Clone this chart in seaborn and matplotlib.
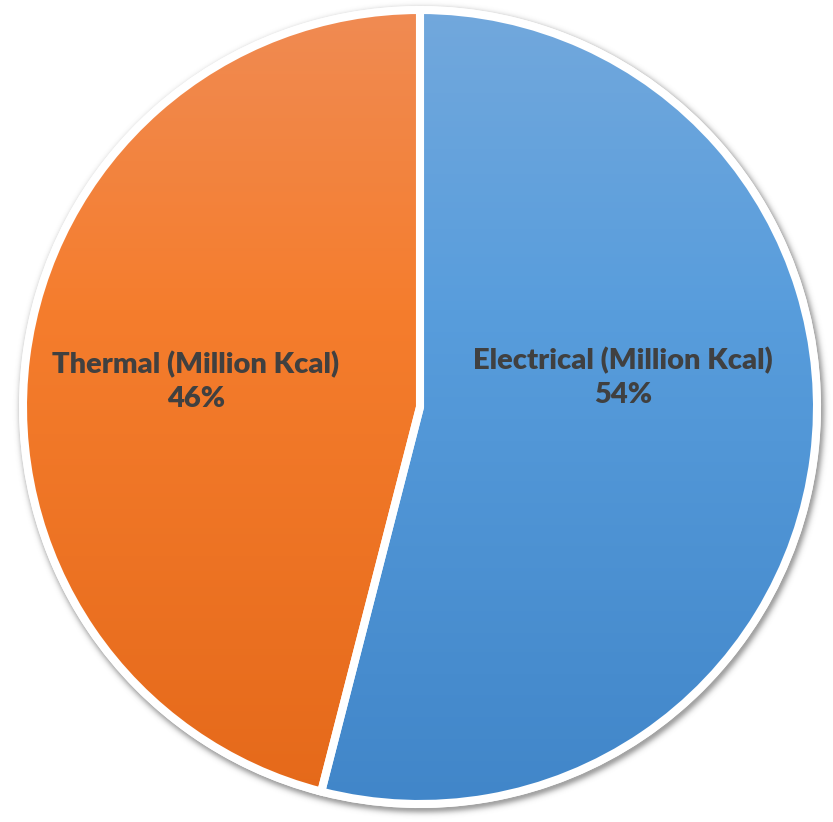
import numpy as np
import matplotlib
matplotlib.use("Agg")
import matplotlib.pyplot as plt
from matplotlib.colors import LinearSegmentedColormap
from matplotlib.patches import Circle
import seaborn as sns

sns.set_theme(style="white")
plt.rcParams["font.family"] = ["Lato", "DejaVu Sans"]

# Energy split
categories = ["Electrical (Million Kcal)", "Thermal (Million Kcal)"]
shares = [54, 46]
# vertical gradient per slice (top, middle, bottom colour)
gradients = [("#72a8dd", "#589ddc", "#4186c9"), ("#f08b53", "#f57d2d", "#e5691a")]
label_pos = [(0.512, 0.075), (-0.565, 0.065)]

W, H, DPI = 833, 822, 100
cx_px, cy_px, R_px = 420, 407, 397

fig = plt.figure(figsize=(W / DPI, H / DPI), dpi=DPI)
ax = fig.add_axes([0, 0, 1, 1])
ax.set_axis_off()

xlim = (-cx_px / R_px, (W - cx_px) / R_px)
ylim = (-(H - cy_px) / R_px, cy_px / R_px)
px = 1.0 / R_px

# soft drop shadow behind the disc
gx = np.linspace(xlim[0], xlim[1], W)
gy = np.linspace(ylim[1], ylim[0], H)
X, Y = np.meshgrid(gx, gy)
d = np.hypot(X - 2 * px, Y + 3 * px) / px  # distance in pixels from shifted centre
edge = R_px + 2
alpha = np.where(d < edge, 0.55, 0.55 * np.exp(-((d - edge) / 5.0) ** 2))
shadow = np.zeros((H, W, 4))
shadow[..., :3] = 0.35
shadow[..., 3] = alpha
ax.imshow(shadow, extent=(xlim[0], xlim[1], ylim[0], ylim[1]), zorder=0,
          interpolation="bilinear")

# white rim
ax.add_patch(Circle((0, 0), 1 + 4 * px, facecolor="white", edgecolor="none", zorder=1))

wedges, _ = ax.pie(shares, startangle=90, counterclock=False, radius=1,
                   wedgeprops=dict(edgecolor="white", linewidth=5.8))
grad = np.linspace(0, 1, 256).reshape(-1, 1)
for w, stops in zip(wedges, gradients):
    w.set_facecolor("none")
    w.set_zorder(3)
    cmap = LinearSegmentedColormap.from_list("g", list(zip([0.0, 0.38, 1.0], stops)))
    im = ax.imshow(grad, cmap=cmap, aspect="auto", extent=(-1, 1, -1, 1),
                   origin="upper", zorder=2)
    im.set_clip_path(w)

for name, val, (tx, ty) in zip(categories, shares, label_pos):
    ax.text(tx, ty, f"{name}\n{val}%", ha="center", va="center",
            fontsize=21, fontweight="heavy", color="#404040",
            linespacing=1.36, zorder=5)

ax.set_xlim(*xlim)
ax.set_ylim(*ylim)
ax.set_aspect("auto")
fig.savefig("out.png", dpi=DPI)
